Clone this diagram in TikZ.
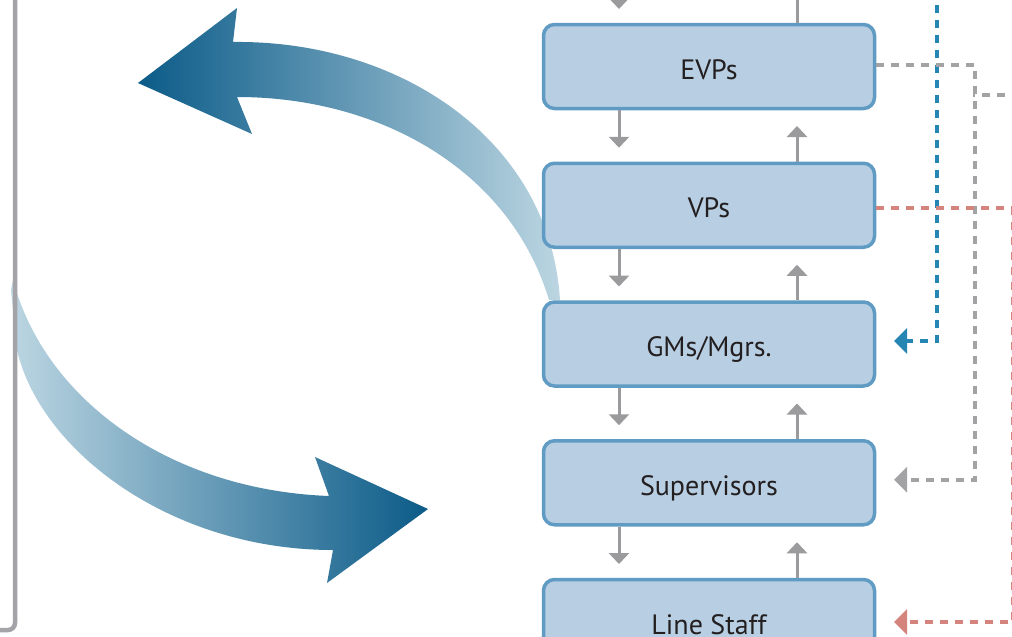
\documentclass[tikz,border=0pt]{standalone}
\usepackage{fontspec}
\setmainfont{PT Sans}
\usetikzlibrary{arrows.meta,calc}

\definecolor{boxfill}{HTML}{B8CFE3}
\definecolor{boxline}{HTML}{609BC3}
\definecolor{txt}{HTML}{231F20}
\definecolor{stepgray}{HTML}{9B9B9E}
\definecolor{dashblue}{HTML}{2585B3}
\definecolor{dashred}{HTML}{D4847C}
\definecolor{dashgray}{HTML}{A3A3A6}
\definecolor{panelgray}{HTML}{A4A4A8}
\definecolor{flowdark}{HTML}{0B5B88}
\definecolor{flowlight}{HTML}{BCD6E2}

\tikzset{
  levelbox/.style={draw=boxline, fill=boxfill, line width=3.5pt,
    rounded corners=11pt, minimum width=331pt, minimum height=84pt,
    inner sep=0pt, text height=28pt, text depth=3pt,
    text=txt, font=\fontsize{28}{30}\selectfont},
  stepline/.style={draw=stepgray, line width=3pt,
    -{Triangle[length=11pt,width=20pt]}},
  linkdash/.style={line width=3.5pt, dash pattern=on 8pt off 7pt,
    -{Triangle[length=13pt,width=25pt]}},
  linkplain/.style={line width=3.5pt, dash pattern=on 8pt off 7pt},
}

\begin{document}
\begin{tikzpicture}[x=1pt, y=-1pt]
\useasboundingbox (0,0) rectangle (1012,637);
\clip (0,0) rectangle (1012,637);
\fill[white] (0,0) rectangle (1012,637);

% upward flow arrow (tail at the managers, head pointing left)
\shade[left color=flowdark, right color=flowlight]
  (138,83) -- (237,8) -- (233,42)
  .. controls (400,40) and (550,140) .. (560,300)
  -- (549,300)
  .. controls (510,170) and (380,97) .. (237,97)
  -- (252,134) -- cycle;

% downward flow arrow (tail at the panel, head pointing right)
\shade[left color=flowlight, right color=flowdark]
  (13,280)
  .. controls (45,400) and (170,490) .. (329,496)
  -- (315,457) -- (428,509) -- (327,583) -- (333,550)
  .. controls (170,550) and (40,450) .. (17,350)
  -- (11,290) -- cycle;

% left panel edge
\draw[panelgray, line width=4.5pt, rounded corners=7pt]
  (-60,-40) rectangle (15,630);

% hierarchy levels
\node[levelbox] (evp) at (709,66.5)   {EVPs};
\node[levelbox] (vp)  at (709,205.25) {VPs};
\node[levelbox] (gm)  at (709,344)    {GMs/Mgrs.};
\node[levelbox] (sup) at (709,482.75) {Supervisors};
\node[levelbox] (ls)  at (709,621.5)  {Line Staff};

% vertical steps between levels
\draw[stepline] ([xshift=-90pt,yshift=50pt]evp.north) -- ([xshift=-90pt,yshift=13.75pt]evp.north);
\draw[stepline] ([xshift=88pt]evp.north) -- ([xshift=88pt,yshift=45pt]evp.north);
\foreach \a/\b in {evp/vp, vp/gm, gm/sup, sup/ls}{
  \draw[stepline] ([xshift=-90pt]\a.south) -- ([xshift=-90pt,yshift=13.75pt]\b.north);
  \draw[stepline] ([xshift=88pt]\b.north) -- ([xshift=88pt,yshift=-15.75pt]\a.south);
}

% dashed feedback links
\coordinate (bluetop) at (937,-10);
\coordinate (grayin)  at (1020,95);
\coordinate (grayjoin) at (973,95);
\draw[linkdash, dashblue] (bluetop) |- ([xshift=17.75pt,yshift=3pt]gm.east);
\draw[linkdash, dashgray] ([yshift=1.5pt]evp.east) -| ([xshift=98.75pt,yshift=3pt]sup.east)
  -- ([xshift=17.75pt,yshift=3pt]sup.east);
\draw[linkplain, dashgray] (grayin) -- (grayjoin);
\draw[linkdash, dashred] ([yshift=-2.75pt]vp.east) -| ([xshift=136.5pt,yshift=-0.5pt]ls.east)
  -- ([xshift=17.75pt,yshift=-0.5pt]ls.east);
\end{tikzpicture}
\end{document}
